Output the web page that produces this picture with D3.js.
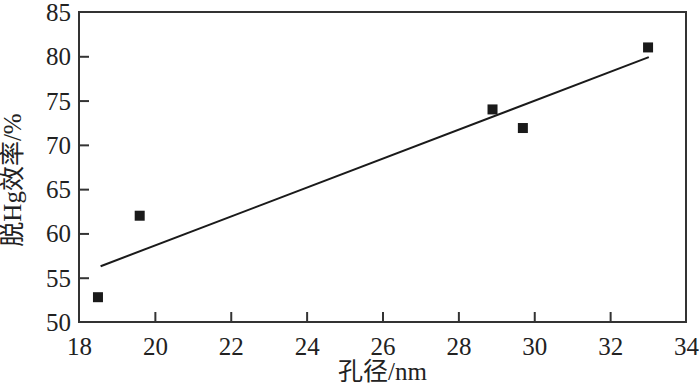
<!DOCTYPE html>
<html>
<head>
<meta charset="utf-8">
<script src="https://cdn.jsdelivr.net/npm/d3@7"></script>
<style>
	body { margin: 0; background: #fff; }
</style>
</head>
<body>
<div id="chart"></div>
<script>
// measured points (pore size nm, Hg removal %)
var poreSize = [18.5, 19.6, 28.9, 29.7, 33.0];
var removal = [52.8, 62.0, 74.0, 71.9, 81.0];
// fitted line end points
var fitX = [18.57, 33.02];
var fitY = [56.3, 79.9];
var xTicks = [18, 20, 22, 24, 26, 28, 30, 32, 34];
var yTicks = [50, 55, 60, 65, 70, 75, 80, 85];

var margin = {top: 12, right: 14, bottom: 62, left: 79};
var width = 700 - margin.left - margin.right;
var height = 384 - margin.top - margin.bottom;
var fontStack = "'Liberation Serif', 'Times New Roman', 'Noto Sans CJK SC', serif";

var x = d3.scaleLinear().domain([18, 34]).range([0, width]);
var y = d3.scaleLinear().domain([50, 85]).range([height, 0]);

var svg = d3.select("#chart").append("svg")
	.attr("width", 700)
	.attr("height", 384)
	.append("g")
	.attr("transform", "translate(" + margin.left + "," + margin.top + ")");

// frame
svg.append("rect")
	.attr("width", width)
	.attr("height", height)
	.attr("fill", "none")
	.attr("stroke", "#333")
	.attr("stroke-width", 2);

var xAxis = d3.axisBottom(x).tickValues(xTicks).tickSizeInner(-10).tickSizeOuter(0).tickPadding(15);
var yAxis = d3.axisLeft(y).tickValues(yTicks).tickSizeInner(-10).tickSizeOuter(0).tickPadding(8);

var gx = svg.append("g")
	.attr("transform", "translate(0," + height + ")")
	.call(xAxis);
var gy = svg.append("g").call(yAxis);

[gx, gy].forEach(function(g) {
	g.attr("font-family", null).attr("font-size", null);
	g.select(".domain").remove();
	g.selectAll(".tick line").attr("stroke", "#333").attr("stroke-width", 2);
	g.selectAll(".tick text")
		.style("font-family", fontStack)
		.style("font-size", "25px")
		.attr("fill", "#222");
});
// hide tick marks on the frame corners
gx.selectAll(".tick line").filter(function(d) { return d === 18 || d === 34; }).remove();
gy.selectAll(".tick line").filter(function(d) { return d === 50 || d === 85; }).remove();
gy.selectAll(".tick text").attr("dy", "0.34em");

// fit line
svg.append("line")
	.attr("x1", x(fitX[0]))
	.attr("y1", y(fitY[0]))
	.attr("x2", x(fitX[1]))
	.attr("y2", y(fitY[1]))
	.attr("stroke", "#1a1a1a")
	.attr("stroke-width", 2);

// points
svg.selectAll(".pt")
	.data(poreSize)
	.enter().append("rect")
	.attr("class", "pt")
	.attr("x", function(d) { return x(d) - 5; })
	.attr("y", function(d, i) { return y(removal[i]) - 5; })
	.attr("width", 10)
	.attr("height", 10)
	.attr("fill", "#1a1a1a");

// axis titles
svg.append("text")
	.attr("x", x(26))
	.attr("y", height + 58)
	.attr("text-anchor", "middle")
	.style("font-family", fontStack)
	.style("font-size", "25px")
	.attr("fill", "#222")
	.text("孔径/nm");

svg.append("text")
	.attr("transform", "translate(" + (-margin.left + 21) + "," + (180 - margin.top) + ") rotate(-90)")
	.attr("text-anchor", "middle")
	.style("font-family", fontStack)
	.style("font-size", "25px")
	.attr("fill", "#222")
	.text("脱Hg效率/%");
</script>
</body>
</html>
